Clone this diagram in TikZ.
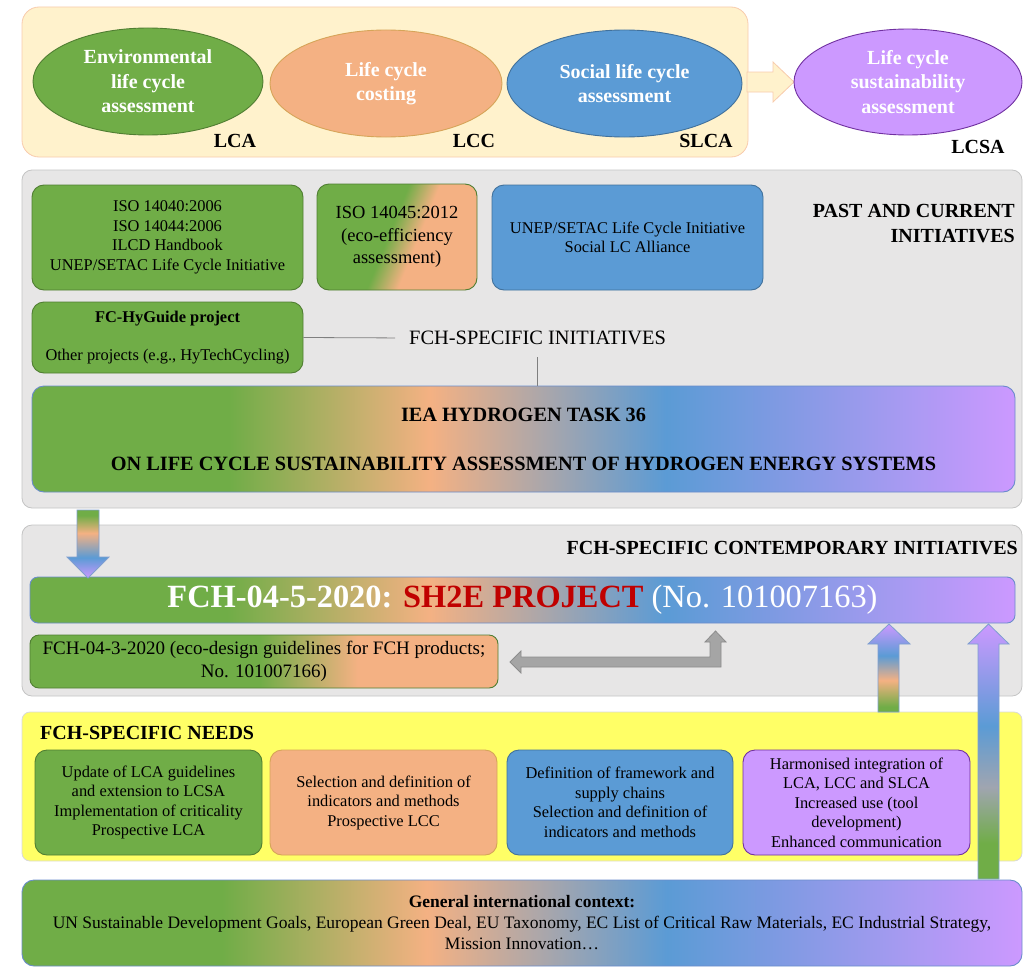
\documentclass[tikz,border=0pt]{standalone}
\usepackage{fontspec}
\setmainfont{Liberation Serif}
\usetikzlibrary{shapes.geometric}
\definecolor{cgreen}{HTML}{70AD47}
\definecolor{cgreenD}{HTML}{507E32}
\definecolor{corange}{HTML}{F4B183}
\definecolor{corangeD}{HTML}{D6A458}
\definecolor{cblue}{HTML}{5B9BD5}
\definecolor{cblueD}{HTML}{41719C}
\definecolor{cpurple}{HTML}{CC99FF}
\definecolor{cpurpleD}{HTML}{7030A0}
\definecolor{cgray}{HTML}{E7E6E6}
\definecolor{cgrayD}{HTML}{C4C4C4}
\definecolor{ctop}{HTML}{FFF2CC}
\definecolor{ctopD}{HTML}{F8CBAD}
\definecolor{cyellow}{HTML}{FFFF66}
\definecolor{cyellowD}{HTML}{D9D9D9}
\definecolor{sh2ered}{HTML}{C00000}
\definecolor{rainline}{HTML}{6A8CCB}
\definecolor{arrline}{HTML}{7F9FD0}
\definecolor{grayarr}{HTML}{A5A5A5}
\definecolor{grayarrD}{HTML}{8C8C8C}
\definecolor{connline}{HTML}{7F7F7F}
\colorlet{cmix}{corange!45!cblue}
\pgfdeclarehorizontalshading{rainbowh}{100bp}{color(0bp)=(cgreen); color(35bp)=(cgreen); color(45.25bp)=(corange); color(57.25bp)=(cblue); color(75bp)=(cpurple); color(100bp)=(cpurple)}
\pgfdeclarehorizontalshading{gotwo}{100bp}{color(0bp)=(cgreen); color(49.5bp)=(cgreen); color(60bp)=(corange); color(100bp)=(corange)}
\pgfdeclarehorizontalshading{isoshade}{100bp}{color(0bp)=(cgreen); color(47bp)=(cgreen); color(57bp)=(corange); color(100bp)=(corange)}
\pgfdeclareverticalshading{downarr}{100bp}{color(0bp)=(cpurple); color(25bp)=(cpurple); color(40bp)=(cblue); color(58bp)=(corange); color(71bp)=(cgreen); color(100bp)=(cgreen)}
\pgfdeclareverticalshading{upone}{100bp}{color(0bp)=(cgreen); color(28bp)=(cgreen); color(43bp)=(corange); color(57bp)=(cblue); color(75bp)=(cpurple); color(100bp)=(cpurple)}
\pgfdeclareverticalshading{uptwo}{100bp}{color(0bp)=(cgreen); color(32bp)=(cgreen); color(43bp)=(cmix); color(55bp)=(cblue); color(75bp)=(cpurple); color(100bp)=(cpurple)}
\newcommand{\bodyfnt}{\fontsize{16.4}{19.5}\selectfont}
\newcommand{\headfnt}{\fontsize{20}{25}\selectfont\bfseries}
\newcommand{\ellfnt}{\fontsize{20}{24.5}\selectfont\bfseries}
\begin{document}
\begin{tikzpicture}[x=1pt,y=-1pt,
  panel/.style={draw, rounded corners=10pt, line width=0.8pt},
  box/.style={rounded corners=12pt, align=center, inner sep=0pt, font=\bodyfnt, line width=0.9pt, text=black},
  gbox/.style={box, fill=cgreen, draw=cgreenD},
  obox/.style={box, fill=corange, draw=corangeD},
  bbox/.style={box, fill=cblue, draw=cblueD},
  pbox/.style={box, fill=cpurple, draw=cpurpleD},
  rainbox/.style={box, shade, shading=rainbowh, draw=rainline},
  ell/.style={ellipse, align=center, font=\ellfnt, text=white, line width=0.9pt, inner sep=0pt},
  lbl/.style={font=\headfnt, inner sep=0pt, text=black},
  conn/.style={draw=connline, line width=0.8pt},
  blockarr/.style={line width=0.8pt, draw=arrline}
]
\useasboundingbox (0,0) rectangle (1035,966);

% ---------- top band ----------
\node[panel, fill=ctop, draw=ctopD, rounded corners=17pt, minimum width=726, minimum height=150] (top) at (385,82) {};
\node[ell, fill=cgreen, draw=cgreenD, minimum width=230, minimum height=107] (lca) at (148,81.5) {Environmental\\life cycle\\assessment};
\node[ell, fill=corange, draw=corangeD, minimum width=232, minimum height=107] (lcc) at (386,83.5) {Life cycle\\costing};
\node[ell, fill=cblue, draw=cblueD, minimum width=235, minimum height=107] (slca) at (624.5,83.5) {Social life cycle\\assessment};
\filldraw[fill=ctop, draw=ctopD, line width=0.8pt] (747,72) -- (773,72) -- (773,62) -- (794,82) -- (773,102) -- (773,92) -- (747,92) -- cycle;
\node[ell, fill=cpurple, draw=cpurpleD, minimum width=228, minimum height=106] (lcsa) at (908,82) {Life cycle\\sustainability\\assessment};
\node[lbl] (lcaL) at (235,141) {LCA};
\node[lbl] (lccL) at (474,141) {LCC};
\node[lbl] (slcaL) at (706,141) {SLCA};
\node[lbl] (lcsaL) at (978,147) {LCSA};

% ---------- past and current initiatives ----------
\node[panel, fill=cgray, draw=cgrayD, minimum width=1000, minimum height=338] (past) at (522,339) {};
\node[gbox, minimum width=271, minimum height=105] (isoA) at (167.5,237.5) {ISO 14040:2006\\ISO 14044:2006\\ILCD Handbook\\UNEP/SETAC Life Cycle Initiative};
\node[box, shade, shading=isoshade, shading angle=-22, draw=cgreenD, font=\fontsize{18.5}{22.5}\selectfont, minimum width=160, minimum height=106] (isoB) at (397,237) {ISO 14045:2012\\(eco-efficiency\\assessment)};
\node[bbox, minimum width=271, minimum height=105] (unep) at (627.5,237.5) {UNEP/SETAC Life Cycle Initiative\\Social LC Alliance};
\node[lbl, align=right, anchor=east] (pastL) at (1015,223.5) {PAST AND CURRENT\\INITIATIVES};
\node[gbox, minimum width=271, minimum height=71] (hyg) at (167.5,337.5) {\textbf{FC-HyGuide project}\\[19pt]Other projects (e.g., HyTechCycling)};
\node[inner sep=0pt, anchor=west, font=\fontsize{20.4}{24}\selectfont] (fchinit) at (409,338) {FCH-SPECIFIC INITIATIVES};
\node[rainbox, font=\fontsize{20.3}{25}\selectfont\bfseries, minimum width=983, minimum height=106] (iea) at (523.5,439) {IEA HYDROGEN TASK 36\\[24pt]ON LIFE CYCLE SUSTAINABILITY ASSESSMENT OF HYDROGEN ENERGY SYSTEMS};
\draw[conn, shorten >=14pt] (hyg.east) -- (fchinit.west);
\draw[conn, shorten <=12pt] (fchinit.south) -- (fchinit.south |- iea.north);

% ---------- contemporary initiatives ----------
\node[panel, fill=cgray, draw=cgrayD, minimum width=1000, minimum height=171] (cont) at (522,610.5) {};
\node[lbl, anchor=east] (contL) at (1018,548) {FCH-SPECIFIC CONTEMPORARY INITIATIVES};
\node[rainbox, rounded corners=8pt, minimum width=985, minimum height=46, font=\fontsize{32.4}{36}\selectfont] (sh2e) at (522.5,600) {\textcolor{white}{\bfseries FCH-04-5-2020:} \textcolor{sh2ered}{\bfseries SH2E PROJECT} \textcolor{white}{(No. 101007163)}};
\node[box, shade, shading=gotwo, draw=cgreenD, rounded corners=9pt, minimum width=468, minimum height=53, font=\fontsize{19}{23}\selectfont] (eco) at (264,661.5) {FCH-04-3-2020 (eco-design guidelines for FCH products;\\No. 101007166)};
\filldraw[fill=grayarr, draw=grayarrD, line width=0.8pt] (510,662) -- (521,651) -- (521,657) -- (710,657) -- (710,642) -- (705,642) -- (715.5,631) -- (726,642) -- (721,642) -- (721,667) -- (521,667) -- (521,673) -- cycle;
\shadedraw[blockarr, shading=downarr] (77,510) -- (99,510) -- (99,557) -- (109,557) -- (88,578) -- (67,557) -- (77,557) -- cycle;

% ---------- needs ----------
\node[panel, fill=cyellow, draw=cyellowD, rounded corners=8pt, minimum width=1000, minimum height=149] (needs) at (522,786.5) {};
\node[lbl, anchor=west] (needsL) at (40,733) {FCH-SPECIFIC NEEDS};
\node[gbox, minimum width=227, minimum height=105] (n1) at (148.5,802.5) {Update of LCA guidelines\\and extension to LCSA\\Implementation of criticality\\Prospective LCA};
\node[obox, minimum width=227, minimum height=105] (n2) at (383.5,802.5) {Selection and definition of\\indicators and methods\\Prospective LCC};
\node[bbox, minimum width=226, minimum height=105] (n3) at (620,802.5) {Definition of framework and\\supply chains\\Selection and definition of\\indicators and methods};
\node[pbox, minimum width=227, minimum height=105] (n4) at (856.5,802.5) {Harmonised integration of\\LCA, LCC and SLCA\\Increased use (tool\\development)\\Enhanced communication};

% ---------- general context ----------
\node[rainbox, minimum width=1000, minimum height=86, font=\fontsize{17.5}{21}\selectfont] (gen) at (522,923) {\textbf{General international context:}\\UN Sustainable Development Goals, European Green Deal, EU Taxonomy, EC List of Critical Raw Materials, EC Industrial Strategy,\\Mission Innovation…};

% ---------- up arrows ----------
\shadedraw[blockarr, shading=upone] (878,712) -- (878,644) -- (868,644) -- (889,624) -- (910,644) -- (899,644) -- (899,712) -- cycle;
\shadedraw[blockarr, shading=uptwo] (978,879) -- (978,644) -- (968,644) -- (988.5,624) -- (1009,644) -- (999,644) -- (999,879) -- cycle;
\end{tikzpicture}
\end{document}
